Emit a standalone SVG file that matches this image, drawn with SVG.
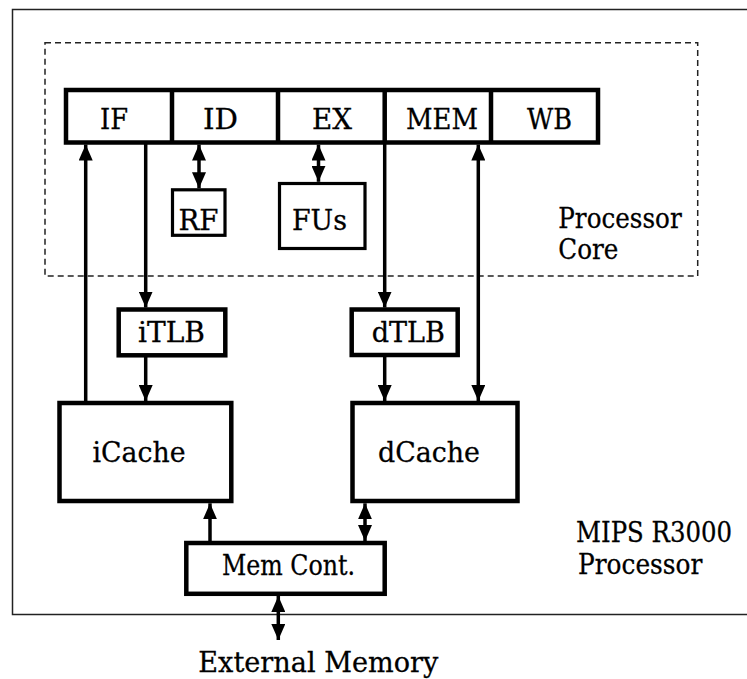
<svg xmlns="http://www.w3.org/2000/svg" width="747" height="679" viewBox="0 0 747 679">
  <style>
    text { font-family: "DejaVu Serif", "Liberation Serif", serif; font-size: 28px; fill: #000; stroke: #000; stroke-width: 0.3; }
    .mid { text-anchor: middle; }
    .box { fill: #fff; stroke: #000; stroke-width: 4.5; }
    .small { fill: #fff; stroke: #000; stroke-width: 3.2; }
    .frame { fill: none; stroke: #222; stroke-width: 1.5; }
    .core { fill: none; stroke: #222; stroke-width: 1.5; stroke-dasharray: 6 4; }
    .wire { fill: none; stroke: #000; stroke-width: 3.5; }
    .one { marker-end: url(#head); }
    .two { marker-start: url(#head); marker-end: url(#head); }
  </style>
  <defs>
    <marker id="head" viewBox="0 0 16 14" refX="16" refY="7" markerWidth="16" markerHeight="14" markerUnits="userSpaceOnUse" orient="auto-start-reverse">
      <path d="M0,0 L16,7 L0,14 z" fill="#000"/>
    </marker>
  </defs>

  <rect width="747" height="679" fill="#fff"/>

  <!-- processor boundary (open to the right edge) and core region -->
  <g id="processor">
    <path class="frame" d="M747,9.5 H12.5 V614.5 H747"/>
    <text x="576" y="541.5" textLength="156" lengthAdjust="spacingAndGlyphs" font-size="24">MIPS R3000</text>
    <text x="578" y="573.5" textLength="124.4" lengthAdjust="spacingAndGlyphs">Processor</text>
  </g>
  <g id="core">
    <rect class="core" x="45" y="42.7" width="652.7" height="233.3"/>
    <text x="558.3" y="228" textLength="123.4" lengthAdjust="spacingAndGlyphs">Processor</text>
    <text x="558.3" y="259" textLength="60" lengthAdjust="spacingAndGlyphs">Core</text>
  </g>

  <!-- pipeline stages -->
  <g id="pipeline">
    <rect class="box" x="66" y="90" width="532" height="52.5"/>
    <path class="box" d="M172,90 V142.5 M278,90 V142.5 M384.7,90 V142.5 M491,90 V142.5"/>
  </g>
  <g id="IF"><text class="mid" x="114" y="128.5" textLength="28" lengthAdjust="spacingAndGlyphs">IF</text></g>
  <g id="ID"><text class="mid" x="220.5" y="128.5" textLength="35" lengthAdjust="spacingAndGlyphs">ID</text></g>
  <g id="EX"><text class="mid" x="332" y="128.5" textLength="40" lengthAdjust="spacingAndGlyphs">EX</text></g>
  <g id="MEM"><text class="mid" x="442" y="128.5" textLength="72" lengthAdjust="spacingAndGlyphs">MEM</text></g>
  <g id="WB"><text class="mid" x="549.5" y="128.5" textLength="45" lengthAdjust="spacingAndGlyphs">WB</text></g>

  <g id="RF">
    <rect class="small" x="172.5" y="189.8" width="52.5" height="45.5"/>
    <text class="mid" x="198.5" y="230" textLength="40" lengthAdjust="spacingAndGlyphs">RF</text>
  </g>
  <g id="FUs">
    <rect class="small" x="279.5" y="183.5" width="85.5" height="65"/>
    <text class="mid" x="319.5" y="230" textLength="55" lengthAdjust="spacingAndGlyphs">FUs</text>
  </g>

  <g id="iTLB">
    <rect class="box" x="118.7" y="309.5" width="106.6" height="45.8"/>
    <text class="mid" x="171.5" y="341.7" textLength="67" lengthAdjust="spacingAndGlyphs">iTLB</text>
  </g>
  <g id="dTLB">
    <rect class="box" x="351.7" y="309.5" width="106" height="45.5"/>
    <text class="mid" x="408.3" y="341.7" textLength="73.3" lengthAdjust="spacingAndGlyphs">dTLB</text>
  </g>

  <g id="iCache">
    <rect class="box" x="59.5" y="403" width="171.8" height="98"/>
    <text class="mid" x="139" y="461.7" textLength="93" lengthAdjust="spacingAndGlyphs">iCache</text>
  </g>
  <g id="dCache">
    <rect class="box" x="352.5" y="403" width="165" height="98"/>
    <text class="mid" x="429" y="461.7" textLength="102" lengthAdjust="spacingAndGlyphs">dCache</text>
  </g>

  <g id="memcont">
    <rect class="box" x="186.3" y="543" width="198.4" height="50.8"/>
    <text class="mid" x="288.5" y="575" textLength="133" lengthAdjust="spacingAndGlyphs">Mem Cont.</text>
  </g>

  <g id="external">
    <text class="mid" x="318.3" y="672" textLength="240" lengthAdjust="spacingAndGlyphs">External Memory</text>
  </g>

  <!-- connectors -->
  <g id="connectors">
    <line class="wire one" x1="85.7" y1="403" x2="85.7" y2="144.5"/>
    <line class="wire one" x1="145.7" y1="142.5" x2="145.7" y2="307.5"/>
    <line class="wire one" x1="145.7" y1="355.3" x2="145.7" y2="401"/>
    <line class="wire two" x1="199" y1="144.5" x2="199" y2="188.3"/>
    <line class="wire two" x1="318.5" y1="144.5" x2="318.5" y2="181.8"/>
    <line class="wire one" x1="384.7" y1="142.5" x2="384.7" y2="307.5"/>
    <line class="wire one" x1="384.7" y1="355" x2="384.7" y2="401"/>
    <line class="wire two" x1="478.3" y1="144.5" x2="478.3" y2="401"/>
    <line class="wire one" x1="210" y1="543" x2="210" y2="503.3"/>
    <line class="wire two" x1="365" y1="503.3" x2="365" y2="541"/>
    <line class="wire two" x1="278.3" y1="596" x2="278.3" y2="640"/>
  </g>
</svg>
